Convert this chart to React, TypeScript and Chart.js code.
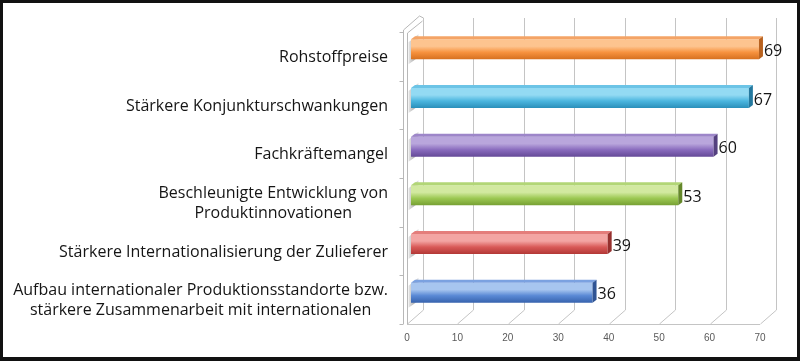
import React, { useEffect, useRef } from "react";
import { Chart, registerables } from "chart.js";

Chart.register(...registerables);

const categories: string[][] = [
  ["Rohstoffpreise"],
  ["Stärkere Konjunkturschwankungen"],
  ["Fachkräftemangel"],
  ["Beschleunigte Entwicklung von", "Produktinnovationen"],
  ["Stärkere Internationalisierung der Zulieferer"],
  ["Aufbau internationaler Produktionsstandorte bzw.", "stärkere Zusammenarbeit mit internationalen"],
];
const values: number[] = [69, 67, 60, 53, 39, 36];
const xTicks: number[] = [0, 10, 20, 30, 40, 50, 60, 70];

const barLight = ["#fdc48f", "#93daf3", "#b9a6dc", "#d2e9a0", "#f3a5a3", "#a7c5ef"];
const barBase = ["#f7923e", "#4bb6df", "#8a6cbe", "#9cc852", "#d95a58", "#5a89d5"];
const barDark = ["#d6701f", "#2a8fba", "#654a98", "#76a033", "#b23836", "#3763ae"];
const barTop = ["#f4a466", "#6cc4e6", "#9d86c9", "#b2d676", "#e47d7b", "#7ba1e0"];
const barSide = ["#b8621f", "#24799f", "#54407f", "#65882b", "#96302e", "#2f5494"];

const WALL = { dx: 16, dy: -14 };
const BAR = { dx: 4, dy: -7 };
const DEPTH = { dx: 4, dy: -3 };
const LABEL_FONT = '16px "Open Sans"';
const BAR_PCT = 0.41;

function line(ctx: CanvasRenderingContext2D, x1: number, y1: number, x2: number, y2: number) {
  ctx.beginPath();
  ctx.moveTo(x1, y1);
  ctx.lineTo(x2, y2);
  ctx.stroke();
}

const threeD = {
  id: "threeD",
  beforeDraw(chart: any) {
    const { ctx, width, height } = chart;
    ctx.save();
    ctx.fillStyle = "#ffffff";
    ctx.fillRect(0, 0, width, height);
    ctx.restore();
  },
  beforeDatasetsDraw(chart: any) {
    const { ctx, chartArea: a, scales } = chart;
    const x = scales.x;
    ctx.save();
    ctx.strokeStyle = "#c4c4c4";
    ctx.lineWidth = 1;
    for (const t of xTicks) {
      const px = Math.round(x.getPixelForValue(t)) + 0.5;
      line(ctx, px + WALL.dx, a.top + WALL.dy, px + WALL.dx, a.bottom + WALL.dy);
      line(ctx, px + WALL.dx, a.bottom + WALL.dy, px, a.bottom);
    }
    line(ctx, a.left, a.bottom + 0.5, a.right, a.bottom + 0.5);
    // left wall slab
    const L = Math.round(a.left) + 0.5;
    ctx.strokeStyle = "#b8b8b8";
    line(ctx, L - 4, a.top - 2, L - 4, a.bottom);
    line(ctx, L, a.top + 1, L, a.bottom);
    line(ctx, L - 4, a.top - 2, L - 4 + WALL.dx, a.top - 2 + WALL.dy);
    line(ctx, L - 4 + WALL.dx, a.top - 2 + WALL.dy, L + WALL.dx, a.top + WALL.dy);
    line(ctx, L, a.top + 1, L + WALL.dx - 1, a.top + WALL.dy + 3);
    const n = categories.length;
    const band = (a.bottom - a.top) / n;
    for (let k = 0; k <= n; k++) {
      const yy = Math.round(a.top + k * band) + 0.5;
      line(ctx, L - 8, yy, L - 4, yy);
    }
    // shadows of bars on the wall
    const meta = chart.getDatasetMeta(0);
    meta.data.forEach((el: any) => {
      const p = el.getProps(["y", "height"], true);
      const top = p.y - p.height / 2 + BAR.dy;
      const bot = p.y + p.height / 2 + BAR.dy;
      const g = ctx.createLinearGradient(L + 1, 0, L + 12, 0);
      g.addColorStop(0, "rgba(90,90,90,0.15)");
      g.addColorStop(0.5, "rgba(90,90,90,0.45)");
      g.addColorStop(1, "rgba(90,90,90,0.1)");
      ctx.fillStyle = g;
      ctx.beginPath();
      ctx.moveTo(L + 1, top + 3);
      ctx.lineTo(L + 11, top - 5);
      ctx.lineTo(L + 11, bot - 2);
      ctx.lineTo(L + 1, bot + 5);
      ctx.closePath();
      ctx.fill();
    });
    ctx.restore();
    ctx.save();
    ctx.translate(BAR.dx, BAR.dy);
  },
  afterDatasetsDraw(chart: any) {
    const { ctx } = chart;
    ctx.restore();
    ctx.save();
    const meta = chart.getDatasetMeta(0);
    meta.data.forEach((el: any, i: number) => {
      const p = el.getProps(["x", "y", "base", "height"], true);
      const left = p.base + BAR.dx;
      const right = p.x + BAR.dx;
      const top = p.y - p.height / 2 + BAR.dy;
      const bot = p.y + p.height / 2 + BAR.dy;
      ctx.fillStyle = barTop[i];
      ctx.beginPath();
      ctx.moveTo(left, top);
      ctx.lineTo(right, top);
      ctx.lineTo(right + DEPTH.dx, top + DEPTH.dy);
      ctx.lineTo(left + DEPTH.dx, top + DEPTH.dy);
      ctx.closePath();
      ctx.fill();
      ctx.fillStyle = barSide[i];
      ctx.beginPath();
      ctx.moveTo(right, top);
      ctx.lineTo(right + DEPTH.dx, top + DEPTH.dy);
      ctx.lineTo(right + DEPTH.dx, bot + DEPTH.dy);
      ctx.lineTo(right, bot);
      ctx.closePath();
      ctx.fill();
      ctx.fillStyle = "#151515";
      ctx.font = LABEL_FONT;
      ctx.textAlign = "left";
      ctx.textBaseline = "middle";
      ctx.fillText(String(values[i]), right + DEPTH.dx + 1, p.y + BAR.dy + 2);
    });
    ctx.restore();
  },
  afterDraw(chart: any) {
    const { ctx, chartArea: a, scales, width, height } = chart;
    const y = scales.y;
    ctx.save();
    ctx.font = LABEL_FONT;
    ctx.fillStyle = "#151515";
    ctx.textAlign = "center";
    ctx.textBaseline = "middle";
    const rightEdge = a.left - 19;
    const lh = 20;
    categories.forEach((lines, i) => {
      const yc = y.getPixelForValue(i);
      const bw = Math.max(...lines.map((s) => ctx.measureText(s).width));
      const cx = rightEdge - bw / 2;
      lines.forEach((s, j) => {
        ctx.fillText(s, cx, yc + 1 + (j - (lines.length - 1) / 2) * lh);
      });
    });
    ctx.fillStyle = "#111111";
    ctx.fillRect(0, 0, width, 3);
    ctx.fillRect(0, height - 4, width, 4);
    ctx.fillRect(0, 0, 3, height);
    ctx.fillRect(width - 3, 0, 3, height);
    ctx.restore();
  },
};

export default function App() {
  const ref = useRef<HTMLCanvasElement | null>(null);
  useEffect(() => {
    if (!ref.current) return;
    const chart = new Chart(ref.current, {
      type: "bar",
      data: {
        labels: categories.map((c) => c.join(" ")),
        datasets: [
          {
            data: values,
            barPercentage: BAR_PCT,
            categoryPercentage: 1,
            borderWidth: 0,
            backgroundColor: (c: any) => {
              const i = c.dataIndex ?? 0;
              const ys = c.chart.scales?.y;
              if (!ys || !c.chart.chartArea) return barBase[i];
              const yc = ys.getPixelForValue(i);
              const h = ((c.chart.chartArea.bottom - c.chart.chartArea.top) / categories.length) * BAR_PCT;
              const g = c.chart.ctx.createLinearGradient(0, yc - h / 2, 0, yc + h / 2);
              g.addColorStop(0, barLight[i]);
              g.addColorStop(0.35, barLight[i]);
              g.addColorStop(0.65, barBase[i]);
              g.addColorStop(1, barDark[i]);
              return g;
            },
          },
        ],
      },
      options: {
        indexAxis: "y",
        animation: false,
        responsive: false,
        events: [],
        layout: { padding: { left: 407, right: 40, top: 32, bottom: 0 } },
        plugins: { legend: { display: false }, tooltip: { enabled: false } },
        scales: {
          x: {
            min: 0,
            max: 70,
            afterBuildTicks: (s: any) => {
              s.ticks = xTicks.map((v) => ({ value: v }));
            },
            afterFit: (s: any) => {
              s.height = 37;
            },
            grid: { display: false, drawTicks: false },
            border: { display: false },
            ticks: {
              padding: 8,
              color: "#5a5a5a",
              font: { family: "Liberation Sans", size: 10 },
              maxRotation: 0,
            },
          },
          y: { display: false },
        },
      },
      plugins: [threeD],
    } as any);
    return () => chart.destroy();
  }, []);
  return (
    <div style={{ position: "absolute", left: 0, top: 0, width: 800, height: 361 }}>
      <canvas ref={ref} width={800} height={361} />
    </div>
  );
}
